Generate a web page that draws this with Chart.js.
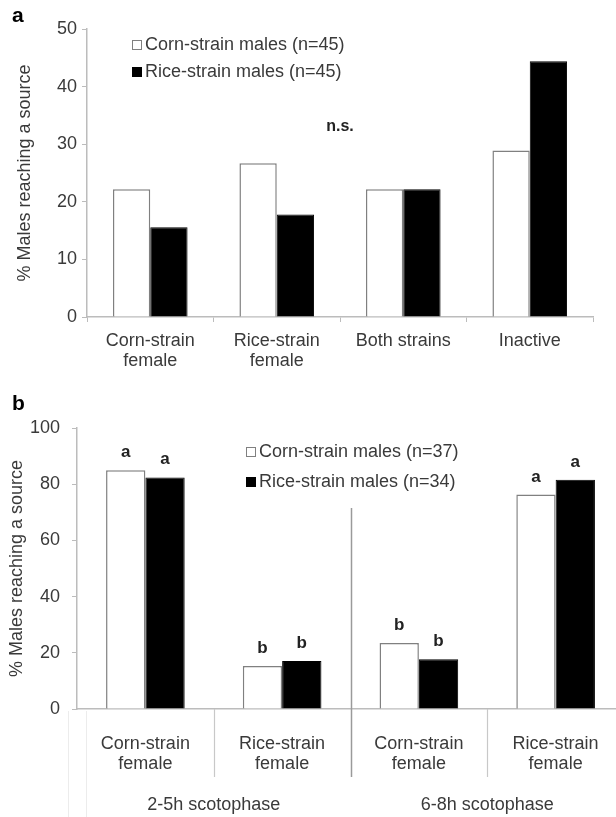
<!DOCTYPE html>
<html>
<head>
<meta charset="utf-8">
<script src="https://cdn.jsdelivr.net/npm/chart.js@4.4.1/dist/chart.umd.min.js"></script>
<style>
  html, body { margin: 0; padding: 0; background: #ffffff; overflow: hidden; }
  #wrap { position: relative; width: 616px; height: 817px; overflow: hidden; }
  #ca { position: absolute; left: 0; top: 0; }
  #cb { position: absolute; left: 0; top: 380px; }
</style>
</head>
<body>
<div id="wrap">
  <canvas id="ca" width="616" height="380"></canvas>
  <canvas id="cb" width="624" height="437"></canvas>
</div>
<script>
// ---------- Data ----------
const categoriesA = [['Corn-strain', 'female'], ['Rice-strain', 'female'], 'Both strains', 'Inactive'];
const cornLabelA = 'Corn-strain males (n=45)';
const riceLabelA = 'Rice-strain males (n=45)';
const cornA = [22.2, 26.7, 22.2, 28.9];
const riceA = [15.6, 17.8, 22.2, 44.4];
const noteA = 'n.s.';
const noteValueA = 33;

const categoriesB = [['Corn-strain', 'female'], ['Rice-strain', 'female'], ['Corn-strain', 'female'], ['Rice-strain', 'female']];
const groupsB = ['2-5h scotophase', '6-8h scotophase'];
const cornLabelB = 'Corn-strain males (n=37)';
const riceLabelB = 'Rice-strain males (n=34)';
const cornB = [85.0, 15.3, 23.5, 76.3];
const riceB = [82.4, 17.1, 17.7, 81.6];
const lettersCornB = ['a', 'b', 'b', 'a'];
const lettersRiceB = ['a', 'b', 'b', 'a'];

const yTitle = '% Males reaching a source';

// ---------- Styles ----------
const FONT = "'Liberation Sans', Arial, sans-serif";
const TXT = '#3a3a3a';
const AXIS = '#bcbcbc';
Chart.defaults.font.family = FONT;
Chart.defaults.color = TXT;

// Custom legend drawn from dataset labels/colours
const boxLegend = {
  id: 'boxLegend',
  afterDraw(chart, args, opts) {
    const ctx = chart.ctx;
    ctx.save();
    ctx.font = '18px ' + FONT;
    ctx.textBaseline = 'middle';
    ctx.textAlign = 'left';
    chart.data.datasets.forEach((ds, i) => {
      const y = opts.y + i * opts.gap;
      ctx.fillStyle = ds.backgroundColor;
      ctx.fillRect(opts.x, y - opts.box / 2, opts.box, opts.box);
      ctx.strokeStyle = ds.borderColor;
      ctx.lineWidth = 1;
      ctx.strokeRect(opts.x + 0.5, y - opts.box / 2 + 0.5, opts.box - 1, opts.box - 1);
      ctx.fillStyle = TXT;
      ctx.fillText(ds.label, opts.x + opts.box + 3, y);
    });
    ctx.restore();
  }
};

// Panel letter
const panelTag = {
  id: 'panelTag',
  afterDraw(chart, args, opts) {
    const ctx = chart.ctx;
    ctx.save();
    ctx.font = 'bold 21px ' + FONT;
    ctx.fillStyle = '#000';
    ctx.textBaseline = 'alphabetic';
    ctx.textAlign = 'left';
    ctx.fillText(opts.text, opts.x, opts.y);
    ctx.restore();
  }
};

// ---------- Chart A ----------
const nsNote = {
  id: 'nsNote',
  afterDraw(chart) {
    const ctx = chart.ctx, a = chart.chartArea, y = chart.scales.y;
    ctx.save();
    ctx.font = 'bold 16px ' + FONT;
    ctx.fillStyle = '#222';
    ctx.textAlign = 'center';
    ctx.textBaseline = 'middle';
    ctx.fillText(noteA, (a.left + a.right) / 2, y.getPixelForValue(noteValueA));
    ctx.restore();
  }
};

new Chart(document.getElementById('ca'), {
  type: 'bar',
  data: {
    labels: categoriesA,
    datasets: [
      { label: cornLabelA, data: cornA, backgroundColor: '#ffffff', borderColor: '#808080', borderWidth: 1.5, categoryPercentage: 0.59, barPercentage: 1.0 },
      { label: riceLabelA, data: riceA, backgroundColor: '#000000', borderColor: '#000000', borderWidth: 1, categoryPercentage: 0.59, barPercentage: 1.0 }
    ]
  },
  options: {
    responsive: false,
    animation: false,
    devicePixelRatio: 1,
    layout: { padding: { top: 29, right: 23, left: 0, bottom: 0 } },
    plugins: {
      legend: { display: false },
      tooltip: { enabled: false },
      boxLegend: { x: 132, y: 45, gap: 27, box: 10 },
      panelTag: { text: 'a', x: 12, y: 22 }
    },
    scales: {
      x: {
        offset: true,
        grid: { display: true, offset: true, drawOnChartArea: false, drawTicks: true, tickLength: 5, color: AXIS },
        border: { color: AXIS, width: 1.5 },
        ticks: { font: { size: 18, lineHeight: 1.12 }, color: TXT, padding: 9, maxRotation: 0, autoSkip: false },
        afterFit(s) { s.height = 380 - 317; }
      },
      y: {
        min: 0, max: 50,
        grid: { display: true, drawOnChartArea: false, drawTicks: true, tickLength: 5, color: AXIS },
        border: { color: AXIS, width: 1.5 },
        ticks: { stepSize: 10, font: { size: 18 }, color: TXT, padding: 5 },
        title: { display: true, text: yTitle, font: { size: 18 }, color: TXT, padding: { top: 14, bottom: 0 } },
        afterFit(s) { s.width = 87; }
      }
    }
  },
  plugins: [boxLegend, panelTag, nsNote]
});

// ---------- Chart B ----------
const letterLabels = {
  id: 'letterLabels',
  afterDatasetsDraw(chart) {
    const ctx = chart.ctx;
    const sets = [lettersCornB, lettersRiceB];
    ctx.save();
    ctx.font = 'bold 17px ' + FONT;
    ctx.fillStyle = '#222';
    ctx.textAlign = 'center';
    ctx.textBaseline = 'alphabetic';
    sets.forEach((letters, d) => {
      chart.getDatasetMeta(d).data.forEach((el, i) => {
        ctx.fillText(letters[i], el.x, el.y - 13);
      });
    });
    ctx.restore();
  }
};

const groupAxis = {
  id: 'groupAxis',
  afterDraw(chart, args, opts) {
    const ctx = chart.ctx, a = chart.chartArea, x = chart.scales.x;
    const n = chart.data.labels.length;
    const bounds = [];
    for (let i = 1; i < n; i++) bounds.push((x.getPixelForValue(i - 1) + x.getPixelForValue(i)) / 2);
    const lineBottom = a.bottom + opts.lineDrop;
    ctx.save();
    // faint outer lines at the left of the multi-level axis
    ctx.strokeStyle = '#ececec';
    ctx.lineWidth = 1;
    [a.left - 9, a.left + 9].forEach(px => {
      ctx.beginPath(); ctx.moveTo(Math.round(px) + 0.5, a.bottom + 2); ctx.lineTo(Math.round(px) + 0.5, chart.height); ctx.stroke();
    });
    bounds.forEach((px, k) => {
      const isGroup = (k + 1) % 2 === 0;
      ctx.strokeStyle = isGroup ? '#9a9a9a' : '#c8c8c8';
      ctx.lineWidth = isGroup ? 1.5 : 1.2;
      ctx.beginPath();
      ctx.moveTo(Math.round(px) + 0.5, isGroup ? a.top + opts.dividerTop : a.bottom);
      ctx.lineTo(Math.round(px) + 0.5, lineBottom);
      ctx.stroke();
    });
    ctx.font = '18px ' + FONT;
    ctx.fillStyle = TXT;
    ctx.textAlign = 'center';
    ctx.textBaseline = 'middle';
    groupsB.forEach((g, j) => {
      const cx = (x.getPixelForValue(2 * j) + x.getPixelForValue(2 * j + 1)) / 2;
      ctx.fillText(g, cx, a.bottom + opts.groupDrop);
    });
    ctx.restore();
  }
};

new Chart(document.getElementById('cb'), {
  type: 'bar',
  data: {
    labels: categoriesB,
    datasets: [
      { label: cornLabelB, data: cornB, backgroundColor: '#ffffff', borderColor: '#808080', borderWidth: 1.5, categoryPercentage: 0.575, barPercentage: 1.0 },
      { label: riceLabelB, data: riceB, backgroundColor: '#000000', borderColor: '#000000', borderWidth: 1, categoryPercentage: 0.575, barPercentage: 1.0 }
    ]
  },
  options: {
    responsive: false,
    animation: false,
    devicePixelRatio: 1,
    layout: { padding: { top: 48, right: 0, left: 0, bottom: 0 } },
    plugins: {
      legend: { display: false },
      tooltip: { enabled: false },
      boxLegend: { x: 246, y: 72, gap: 30, box: 10 },
      panelTag: { text: 'b', x: 12, y: 30 },
      groupAxis: { lineDrop: 68, dividerTop: 80, groupDrop: 96 }
    },
    scales: {
      x: {
        offset: true,
        grid: { display: false },
        border: { color: AXIS, width: 1.5 },
        ticks: { font: { size: 18, lineHeight: 1.12 }, color: TXT, padding: 17, maxRotation: 0, autoSkip: false },
        afterFit(s) { s.height = 437 - 329; }
      },
      y: {
        min: 0, max: 100,
        grid: { display: true, drawOnChartArea: false, drawTicks: true, tickLength: 5, color: AXIS },
        border: { color: AXIS, width: 1.5 },
        ticks: { stepSize: 20, font: { size: 18 }, color: TXT, padding: 12 },
        title: { display: true, text: yTitle, font: { size: 18 }, color: TXT, padding: { top: 6, bottom: 0 } },
        afterFit(s) { s.width = 77; }
      }
    }
  },
  plugins: [boxLegend, panelTag, letterLabels, groupAxis]
});
</script>
</body>
</html>
